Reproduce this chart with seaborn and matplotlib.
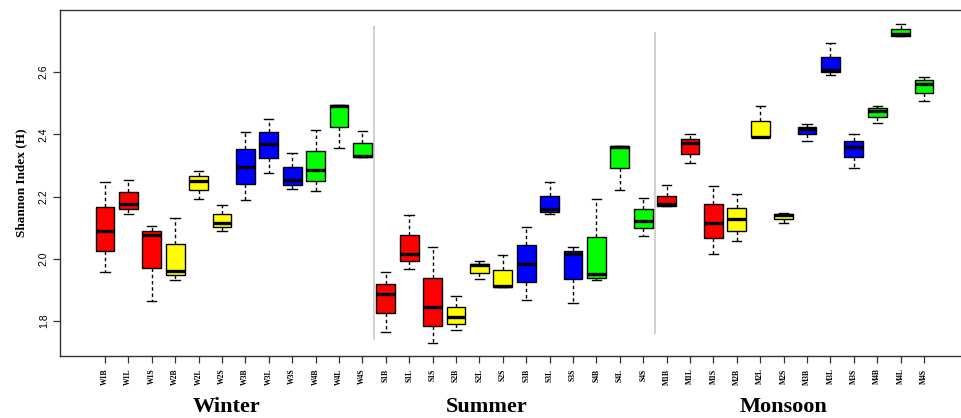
import numpy as np
import pandas as pd
import matplotlib
matplotlib.use("Agg")
import matplotlib.pyplot as plt
import matplotlib.transforms as mtransforms
import seaborn as sns

labels = ["W1B", "W1L", "W1S", "W2B", "W2L", "W2S", "W3B", "W3L", "W3S", "W4B", "W4L", "W4S",
          "S1B", "S1L", "S1S", "S2B", "S2L", "S2S", "S3B", "S3L", "S3S", "S4B", "S4L", "S4S",
          "M1B", "M1L", "M1S", "M2B", "M2L", "M2S", "M3B", "M3L", "M3S", "M4B", "M4L", "M4S"]

# five-number summaries
whisker_low = [1.958, 2.144, 1.865, 1.933, 2.192, 2.089, 2.188, 2.276, 2.225, 2.218, 2.358, 2.328,
               1.766, 1.967, 1.730, 1.770, 1.936, 1.910, 1.867, 2.145, 1.859, 1.931, 2.221, 2.074,
               2.169, 2.307, 2.017, 2.057, 2.391, 2.116, 2.379, 2.590, 2.293, 2.436, 2.715, 2.507]
quart_low = [2.025, 2.159, 1.971, 1.947, 2.220, 2.103, 2.241, 2.323, 2.238, 2.251, 2.424, 2.329,
             1.825, 1.992, 1.786, 1.790, 1.956, 1.911, 1.926, 2.151, 1.937, 1.940, 2.291, 2.098,
             2.170, 2.338, 2.067, 2.089, 2.392, 2.127, 2.401, 2.600, 2.326, 2.456, 2.718, 2.533]
medians = [2.090, 2.178, 2.076, 1.962, 2.251, 2.116, 2.294, 2.370, 2.255, 2.285, 2.492, 2.331,
           1.886, 2.015, 1.844, 1.812, 1.979, 1.912, 1.984, 2.159, 2.017, 1.952, 2.360, 2.121,
           2.175, 2.371, 2.116, 2.127, 2.393, 2.141, 2.419, 2.606, 2.360, 2.476, 2.724, 2.561]
quart_high = [2.167, 2.214, 2.089, 2.047, 2.266, 2.145, 2.354, 2.409, 2.295, 2.348, 2.494, 2.372,
              1.920, 2.077, 1.939, 1.847, 1.983, 1.963, 2.044, 2.203, 2.026, 2.071, 2.362, 2.159,
              2.203, 2.386, 2.175, 2.165, 2.443, 2.143, 2.425, 2.650, 2.379, 2.484, 2.739, 2.574]
whisker_high = [2.248, 2.253, 2.105, 2.130, 2.283, 2.173, 2.409, 2.449, 2.339, 2.414, 2.496, 2.412,
                1.958, 2.140, 2.039, 1.881, 1.992, 2.014, 2.103, 2.246, 2.037, 2.193, 2.363, 2.195,
                2.236, 2.403, 2.234, 2.208, 2.492, 2.146, 2.433, 2.695, 2.403, 2.492, 2.755, 2.585]

site_colors = {"1": "#FF0000", "2": "#FFFF00", "3": "#0000FF", "4": "#00FF00"}
seasons = ["Winter", "Summer", "Monsoon"]
y_ticks = [1.8, 2.0, 2.2, 2.4, 2.6]

rows = []
for i, lab in enumerate(labels):
    for v in (whisker_low[i], quart_low[i], medians[i], quart_high[i], whisker_high[i]):
        rows.append({"label": lab, "H": v})
df = pd.DataFrame(rows)
palette = [site_colors[lab[1]] for lab in labels]

fig = plt.figure(figsize=(9.62, 4.18), dpi=100)
ax = fig.add_axes([60 / 962, (418 - 356) / 418, 905 / 962, 346 / 418])

sns.boxplot(data=df, x="label", y="H", hue="label", order=labels, hue_order=labels,
            palette=palette, legend=False, saturation=1, width=0.8, whis=(0, 100),
            linecolor="black", linewidth=1.0, ax=ax,
            whiskerprops=dict(linestyle=(0, (2.5, 2.0)), linewidth=1.0, color="black"),
            capprops=dict(linewidth=1.0, color="black"),
            medianprops=dict(linewidth=2.4, color="black"),
            boxprops=dict(edgecolor="black", linewidth=1.0))

# season separators
ax.vlines([11.5], 1.74, 2.75, color="#c8c8c8", linewidth=1.2, zorder=0)
ax.vlines([23.5], 1.76, 2.728, color="#c8c8c8", linewidth=1.2, zorder=0)

ax.set_xlim(-1.92, 36.75)
ax.set_ylim(1.688, 2.80)
ax.set_yticks(y_ticks)
ax.set_yticklabels([f"{t:.1f}" for t in y_ticks], rotation=90, va="center",
                   fontsize=7.5, family="Liberation Sans")
ax.set_xticks(range(len(labels)))
ax.set_xticklabels(labels, rotation=90, fontsize=5.5, family="Liberation Serif",
                   fontweight="bold")
ax.tick_params(axis="both", length=5, width=0.9, color="#333333")
ax.tick_params(axis="x", pad=4)
ax.tick_params(axis="y", pad=3)
ax.set_xlabel("")
ax.set_ylabel("Shannon Index (H)", family="Liberation Serif", fontweight="bold",
              fontsize=9.5, labelpad=8)
for s in ax.spines.values():
    s.set_color("#333333")
    s.set_linewidth(1.0)

trans = mtransforms.blended_transform_factory(ax.transData, fig.transFigure)
for name, xpos in zip(seasons, [5.2, 16.3, 29.0]):
    ax.text(xpos, 0.027, name, transform=trans, ha="center", va="center",
            family="Liberation Serif", fontweight="bold", fontsize=16)

fig.savefig("out.png", dpi=100)
